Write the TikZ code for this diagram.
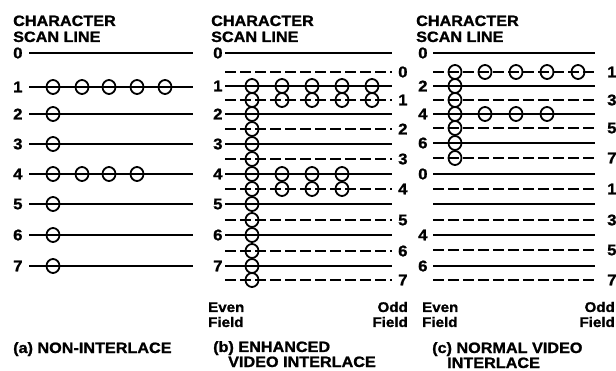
\documentclass[tikz,border=0pt]{standalone}
\usepackage{fontspec}
\newfontfamily\hb{Liberation Sans}[FakeStretch=1.08,FakeBold=1.2]
\tikzset{
  solidln/.style={line width=1.8pt, black},
  dashln/.style={line width=1.8pt, black, dash pattern=on 11pt off 4pt},
  dot/.style={ellipse, draw=black, line width=1.8pt, minimum width=13pt, minimum height=14pt, inner sep=0pt},
  hdr/.style={font=\hb\bfseries\fontsize{15}{16}\selectfont, inner sep=0pt},
  num/.style={font=\hb\bfseries\fontsize{15.5}{16}\selectfont, inner sep=0pt},
  fld/.style={font=\hb\bfseries\fontsize{14}{15}\selectfont, inner sep=0pt},
  captxt/.style={font=\hb\bfseries\fontsize{15}{16}\selectfont, inner sep=0pt}
}
\usetikzlibrary{shapes.geometric}
\begin{document}
\begin{tikzpicture}[x=1pt,y=-1pt]
\useasboundingbox (0,0) rectangle (616,371);
% ---------- headers ----------
\foreach \hx/\nm in {13/ha,211/hb,416/hc}{
  \node[hdr, anchor=base west] (\nm1) at (\hx,26) {CHARACTER};
  \node[hdr, anchor=base west] (\nm2) at (\hx,42) {SCAN LINE};
}
% ---------- panel (a) ----------
\foreach \y/\l [count=\i] in {53/0,87/1,114/2,144/3,174/4,204/5,235/6,266/7}{
  \node[num, anchor=west] (al\i) at (13,\y) {\l};
  \draw[solidln] (29,\y) -- (193,\y);
}
\foreach \x in {53,82,109,137,165} \node[dot] at (\x,87) {};
\foreach \y in {114,144,174,204,235,266} \node[dot] at (53,\y) {};
\foreach \x in {82,109,137} \node[dot] at (\x,174) {};
% ---------- panel (b) ----------
\foreach \y/\l [count=\i] in {53/0,86/1,114/2,144/3,174/4,204/5,235/6,266/7}{
  \node[num, anchor=west] (bl\i) at (213,\y) {\l};
  \draw[solidln] (225,\y) -- (392,\y);
}
\foreach \y/\l [count=\i] in {72/0,100/1,129/2,159/3,189/4,220/5,251/6,280/7}{
  \node[num, anchor=west] (br\i) at (398,\y) {\l};
  \draw[dashln] (225,\y) -- (392,\y);
}
\foreach \y in {86,100,114,129,144,159,174,189,204,220,235,251,266,280}
  \node[dot] at (252,\y) {};
\foreach \x in {282,312,342,372}{\node[dot] at (\x,86) {}; \node[dot] at (\x,100) {};}
\foreach \x in {282,312,342}{\node[dot] at (\x,174) {}; \node[dot] at (\x,189) {};}
% ---------- panel (c) ----------
\foreach \y/\l [count=\i] in {53/0,86/2,114/4,143/6,174/0,204/{},235/4,266/6}{
  \node[num, anchor=west] (cl\i) at (418,\y) {\l};
  \draw[solidln] (433,\y) -- (595,\y);
}
\foreach \y/\l [count=\i] in {72/1,100/3,128/5,158/7,189/1,220/3,250/5,280/7}{
  \node[num, anchor=west] (cr\i) at (607,\y) {\l};
  \draw[dashln] (433,\y) -- (595,\y);
}
\foreach \y in {72,86,100,114,128,143,158} \node[dot] at (455,\y) {};
\foreach \x in {485,516,547,578} \node[dot] at (\x,72) {};
\foreach \x in {485,516,547} \node[dot] at (\x,114) {};
% ---------- field labels ----------
\node[fld, anchor=base west] (be1) at (208,312) {Even};
\node[fld, anchor=base west] (be2) at (208,327) {Field};
\node[fld, anchor=base east] (bo1) at (408,312) {Odd};
\node[fld, anchor=base east] (bo2) at (408,327) {Field};
\node[fld, anchor=base west] (ce1) at (422,312) {Even};
\node[fld, anchor=base west] (ce2) at (422,327) {Field};
\node[fld, anchor=base east] (co1) at (615,312) {Odd};
\node[fld, anchor=base east] (co2) at (615,327) {Field};
% ---------- captions ----------
\node[captxt, anchor=base west] (capa) at (13,353) {(a) NON-INTERLACE};
\node[captxt, anchor=base west] (capb1) at (213,352) {(b) ENHANCED};
\node[captxt, anchor=base west] (capb2) at (228,367) {VIDEO INTERLACE};
\node[captxt, anchor=base west] (capc1) at (432,353) {(c) NORMAL VIDEO};
\node[captxt, anchor=base west] (capc2) at (447,368) {INTERLACE};
\end{tikzpicture}
\end{document}
